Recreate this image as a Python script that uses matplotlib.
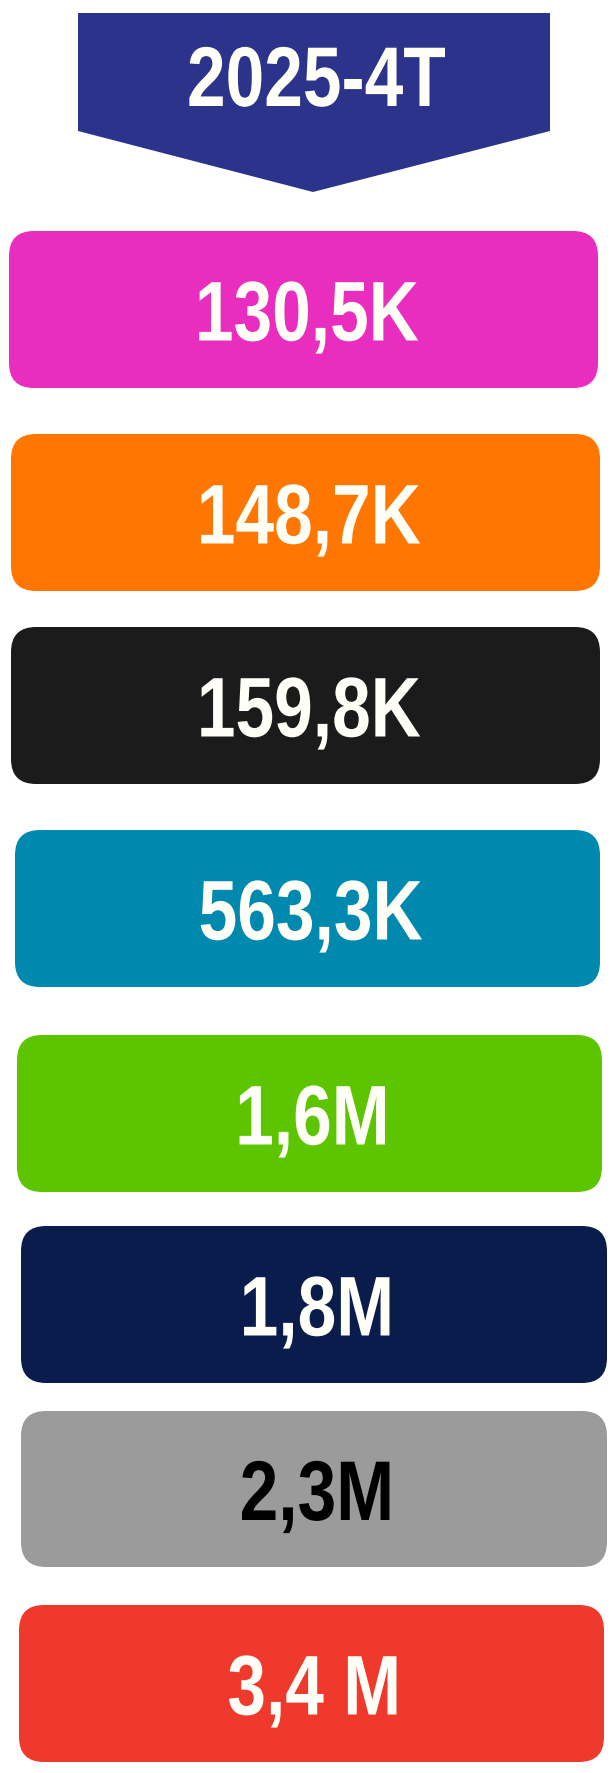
import matplotlib
matplotlib.use("Agg")
import matplotlib.pyplot as plt
from matplotlib.patches import FancyBboxPatch, Polygon
from matplotlib.patheffects import AbstractPathEffect
from matplotlib.transforms import Affine2D

# values shown in the stacked boxes, top to bottom
header = "2025-4T"
labels = ["130,5K", "148,7K", "159,8K", "563,3K", "1,6M", "1,8M", "2,3M", "3,4 M"]
box_colors = ["#E92DBF", "#FF7700", "#1B1B1B", "#0089AE",
              "#5CC500", "#091C4B", "#9B9B9B", "#EF392D"]
text_colors = ["#FFFFF8"] * 6 + ["#000000", "#FFFFF8"]

# layout in pixels (left, right, top, bottom)
boxes = [(9, 598, 231, 388), (11, 600, 434, 591), (11, 600, 627, 784),
         (15, 600, 830, 987), (17, 602, 1035, 1192), (21, 607, 1226, 1383),
         (21, 607, 1411, 1567), (19, 604, 1605, 1762)]


class Narrow(AbstractPathEffect):
    """squeeze the glyphs sideways, no narrow font is installed"""
    def __init__(self, sx=0.82):
        super().__init__()
        self.sx = sx

    def draw_path(self, renderer, gc, tpath, affine, rgbFace=None):
        ext = tpath.transformed(affine).get_extents()
        cx = (ext.x0 + ext.x1) / 2
        squeeze = Affine2D().translate(-cx, 0).scale(self.sx, 1).translate(cx, 0)
        renderer.draw_path(gc, tpath, affine + squeeze, rgbFace)


W, H = 615, 1773
fig = plt.figure(figsize=(W / 100, H / 100), dpi=100)
ax = fig.add_axes([0, 0, 1, 1])
ax.set_xlim(0, W)
ax.set_ylim(H, 0)
ax.axis("off")

font = ["Liberation Sans", "DejaVu Sans"]
fs = 61
narrow = [Narrow(0.82)]

# header banner with a pointed bottom
ax.add_patch(Polygon([(78, 13), (550, 13), (550, 131), (313, 192), (78, 131)],
                     closed=True, facecolor="#2B338B", edgecolor="none"))
ax.text(316, 106, header, ha="center", va="baseline", fontsize=fs,
        fontweight="bold", family=font, color="#FFFFF8", path_effects=narrow)

for lab, fc, tc, (l, r, t, b) in zip(labels, box_colors, text_colors, boxes):
    ax.add_patch(FancyBboxPatch((l, t), r - l, b - t,
                                boxstyle="round,pad=0,rounding_size=25",
                                facecolor=fc, edgecolor="none"))
    cy = (t + b) / 2
    ax.text((l + r) / 2 + 3, cy + 31, lab, ha="center", va="baseline",
            fontsize=fs, fontweight="bold", family=font, color=tc,
            path_effects=narrow)

fig.savefig("out.png", dpi=100, facecolor="white")
